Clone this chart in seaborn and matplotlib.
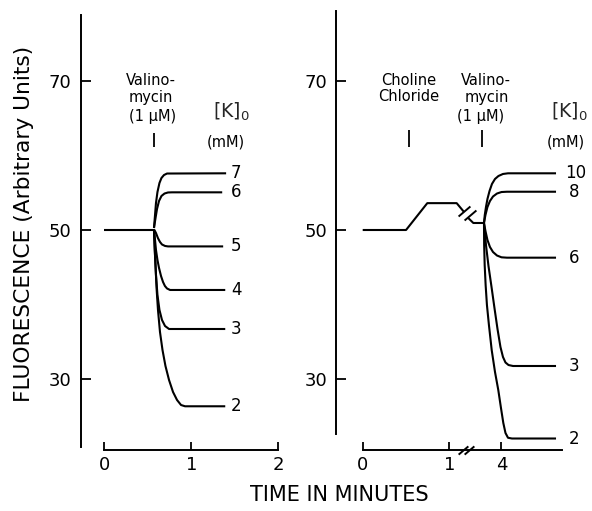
import numpy as np
import pandas as pd
import matplotlib
matplotlib.use("Agg")
import matplotlib.pyplot as plt
import seaborn as sns

# ---------------- data (time in minutes, fluorescence in arbitrary units) ----------------
# Left panel: valinomycin (1 uM) added at ~0.57 min, then [K]o = 7..2 mM
left_base_time = [0.0, 0.571]
left_base_fluor = [50.0, 50.0]

left_k7_time = [0.571, 0.583, 0.594, 0.611, 0.634, 0.657, 0.686, 0.721, 1.40]
left_k7_fluor = [50.27, 52.01, 53.62, 55.09, 56.30, 56.97, 57.37, 57.57, 57.6]
left_k6_time = [0.571, 0.589, 0.606, 0.629, 0.657, 0.692, 0.732, 0.778, 1.355]
left_k6_fluor = [50.27, 51.61, 52.82, 53.89, 54.56, 54.89, 55.03, 55.05, 55.05]
left_k5_time = [0.571, 0.594, 0.617, 0.640, 0.663, 0.698, 0.732, 1.366]
left_k5_fluor = [50.1, 49.6, 48.9, 48.4, 48.06, 47.86, 47.8, 47.8]
left_k4_time = [0.571, 0.583, 0.594, 0.611, 0.629, 0.652, 0.675, 0.697, 0.721, 0.756, 1.39]
left_k4_fluor = [50.0, 48.66, 47.32, 45.98, 44.91, 43.83, 43.03, 42.49, 42.16, 41.96, 41.96]
left_k3_time = [0.571, 0.583, 0.594, 0.611, 0.634, 0.663, 0.698, 0.744, 1.39]
left_k3_fluor = [50.0, 46.65, 43.97, 41.29, 39.28, 37.94, 37.13, 36.73, 36.73]
left_k2_time = [0.571, 0.580, 0.591, 0.602, 0.617, 0.640, 0.669, 0.703, 0.744, 0.790,
                0.836, 0.882, 0.928, 1.39]
left_k2_fluor = [50.0, 47.32, 44.64, 41.96, 39.28, 36.33, 33.91, 31.77, 29.89, 28.28,
                 27.21, 26.54, 26.37, 26.37]
left_k_labels = ["7", "6", "5", "4", "3", "2"]

# Right panel: choline chloride at ~0.53 min, time break, valinomycin at ~3.8 min
right_pre_time = [0.0, 0.50, 0.745, 1.084, 1.17]
right_pre_fluor = [50.0, 50.0, 53.6, 53.6, 52.4]
right_post_time = [3.618, 3.676, 3.799]
right_post_fluor = [51.6, 50.94, 50.94]

right_k10_time = [3.799, 3.808, 3.822, 3.839, 3.863, 3.891, 3.926, 3.966, 4.018, 4.076, 4.63]
right_k10_fluor = [50.94, 52.01, 53.08, 54.16, 55.23, 56.17, 56.84, 57.24, 57.51, 57.60, 57.60]
right_k8_time = [3.799, 3.816, 3.839, 3.868, 3.903, 3.949, 4.001, 4.064, 4.63]
right_k8_fluor = [50.94, 52.01, 53.08, 53.89, 54.49, 54.89, 55.09, 55.13, 55.13]
right_k6_time = [3.799, 3.816, 3.839, 3.868, 3.903, 3.949, 4.001, 4.064, 4.63]
right_k6_fluor = [50.94, 49.87, 48.66, 47.72, 47.05, 46.58, 46.34, 46.29, 46.29]
right_k3_time = [3.799, 3.822, 3.851, 3.886, 3.920, 3.955, 3.989, 4.018, 4.047, 4.082,
                 4.134, 4.63]
right_k3_fluor = [50.94, 47.99, 45.17, 42.36, 39.54, 36.73, 34.32, 32.98, 32.24, 31.90,
                  31.77, 31.77]
right_k2_time = [3.799, 3.801, 3.807, 3.818, 3.833, 3.856, 3.888, 3.926, 3.964, 3.995,
                 4.022, 4.047, 4.076, 4.122, 4.63]
right_k2_fluor = [50.94, 47.99, 45.31, 42.63, 39.95, 37.27, 33.91, 30.97, 28.55, 26.14,
                  24.13, 22.79, 22.15, 22.05, 22.05]
right_k_labels = ["10", "8", "6", "3", "2"]

left_xticks = [0, 1, 2]
right_xticks = [0, 1, 4]
yticks = [30, 50, 70]

left_valino_time = 0.571
right_choline_time = 0.534
right_valino_time = 3.78

# time axis break on the right panel: 1.2 .. 3.6 min collapsed
BREAK_LO, BREAK_HI = 1.2, 3.6


def _frame(panel, pairs):
    rows = []
    for name, (t, f) in pairs.items():
        for ti, fi in zip(t, f):
            rows.append({"panel": panel, "trace": name, "time": ti, "fluorescence": fi})
    return rows


left_traces = {
    "base": (left_base_time, left_base_fluor),
    "7": (left_k7_time, left_k7_fluor),
    "6": (left_k6_time, left_k6_fluor),
    "5": (left_k5_time, left_k5_fluor),
    "4": (left_k4_time, left_k4_fluor),
    "3": (left_k3_time, left_k3_fluor),
    "2": (left_k2_time, left_k2_fluor),
}
right_traces = {
    "pre": (right_pre_time, right_pre_fluor),
    "post": (right_post_time, right_post_fluor),
    "10": (right_k10_time, right_k10_fluor),
    "8": (right_k8_time, right_k8_fluor),
    "6": (right_k6_time, right_k6_fluor),
    "3": (right_k3_time, right_k3_fluor),
    "2": (right_k2_time, right_k2_fluor),
}
df = pd.DataFrame(_frame("left", left_traces) + _frame("right", right_traces))

# ---------------- style ----------------
sns.set_style("ticks")
plt.rcParams["font.family"] = ["DejaVu Sans"]
plt.rcParams["mathtext.default"] = "regular"

LW = 1.5
fig = plt.figure(figsize=(5.92, 5.11), dpi=100)

ax_bottom = 1 - 450 / 511
ax_height = 438 / 511
axL = fig.add_axes([80.7 / 592, ax_bottom, (290 - 80.7) / 592, ax_height])
axR = fig.add_axes([336 / 592, ax_bottom, (592 - 336) / 592, ax_height])

for ax, panel in ((axL, "left"), (axR, "right")):
    sns.lineplot(data=df[df.panel == panel], x="time", y="fluorescence",
                 units="trace", estimator=None, color="black", linewidth=LW,
                 sort=False, legend=False, ax=ax,
                 solid_joinstyle="round", solid_capstyle="butt")


def fwd(t):
    t = np.asarray(t, dtype=float)
    return np.where(t <= BREAK_LO, t, np.where(t < BREAK_HI, BREAK_LO, t - (BREAK_HI - BREAK_LO)))


def inv(u):
    u = np.asarray(u, dtype=float)
    return np.where(u <= BREAK_LO, u, u + (BREAK_HI - BREAK_LO))


axR.set_xscale("function", functions=(fwd, inv))

y_lo, y_hi = 50 - 220 / 7.46, 50 + 218 / 7.46
axL.set_xlim(-0.271, 2.134)
axR.set_xlim(-0.308, 2.645 + (BREAK_HI - BREAK_LO))
for ax in (axL, axR):
    ax.set_ylim(y_lo, y_hi)
    ax.set_xlabel("")
    ax.set_ylabel("")
    ax.set_yticks(yticks)
    ax.set_yticklabels([str(v) for v in yticks])
    for side in ("top", "right"):
        ax.spines[side].set_visible(False)
    for side in ("left", "bottom"):
        ax.spines[side].set_linewidth(1.4)
        ax.spines[side].set_color("black")
    ax.tick_params(axis="y", direction="in", length=7.5, width=1.3, pad=6.5,
                   labelsize=13, colors="black")
    ax.tick_params(axis="x", direction="in", length=6, width=1.3, pad=4,
                   labelsize=13, colors="black")
    ax.minorticks_off()

axL.set_xticks(left_xticks)
axL.set_xticklabels([str(v) for v in left_xticks])
axR.set_xticks(right_xticks)
axR.set_xticklabels([str(v) for v in right_xticks])
axR.xaxis.set_minor_locator(matplotlib.ticker.NullLocator())

axL.spines["bottom"].set_bounds(0, 2)
axL.spines["left"].set_bounds(20.95, 78.8)
axR.spines["bottom"].set_bounds(0, 4.695)
axR.spines["left"].set_bounds(22.7, 79.3)

# addition markers
axL.vlines(left_valino_time, 61.1, 63.0, color="black", lw=1.3)
axR.vlines([right_choline_time, right_valino_time], 61.1, 63.4, color="black", lw=1.3)

ann = dict(ha="center", va="center", fontsize=10.5, color="black")
axL.text(0.534, 70.1, "Valino-", **ann)
axL.text(0.537, 67.8, "mycin", **ann)
axL.text(0.55, 65.15, "(1 \u03bcM)", **ann)
axR.text(0.534, 70.1, "Choline", **ann)
axR.text(0.534, 67.96, "Chloride", **ann)
axR.text(3.822, 70.1, "Valino-", **ann)
axR.text(3.830, 67.8, "mycin", **ann)
axR.text(3.764, 65.15, "(1 \u03bcM)", **ann)

axL.text(1.456, 65.8, "[K]$_0$", ha="center", va="center", fontsize=13.5)
axL.text(1.399, 61.84, "(mM)", **ann)
axR.text(4.781, 65.8, "[K]$_0$", ha="center", va="center", fontsize=13.5, clip_on=False)
axR.text(4.745, 61.84, "(mM)", **ann)

# concentration labels at the end of each trace
lab = dict(ha="left", va="center", fontsize=12, color="black", clip_on=False)
for name in left_k_labels:
    f = left_traces[name][1][-1]
    axL.text(1.456, f, name, **lab)
for name in right_k_labels:
    f = right_traces[name][1][-1]
    axR.text(4.733 if len(name) > 1 else 4.774, f, name, **lab)

# break marks ("//") on the trace and on the time axis
slash = [(-1.0, -0.85), (1.0, 0.85)]
axR.plot([1.163, 3.632], [52.5, 52.0], ls="none", marker=slash, ms=8.5,
         mew=1.4, mec="black", color="black")
axR.plot([1.16, 3.625], [0.0, 0.0], ls="none", marker=slash, ms=7,
         mew=1.4, mec="black", color="black", transform=axR.get_xaxis_transform(),
         clip_on=False)

fig.text(24 / 592, 1 - 224 / 511, "FLUORESCENCE (Arbitrary Units)", rotation=90,
         ha="center", va="center", fontsize=15.7, color="black")
fig.text(339 / 592, 1 - 495 / 511, "TIME IN MINUTES", ha="center", va="center",
         fontsize=15, color="black")

fig.savefig("out.png", dpi=100, facecolor="white")
